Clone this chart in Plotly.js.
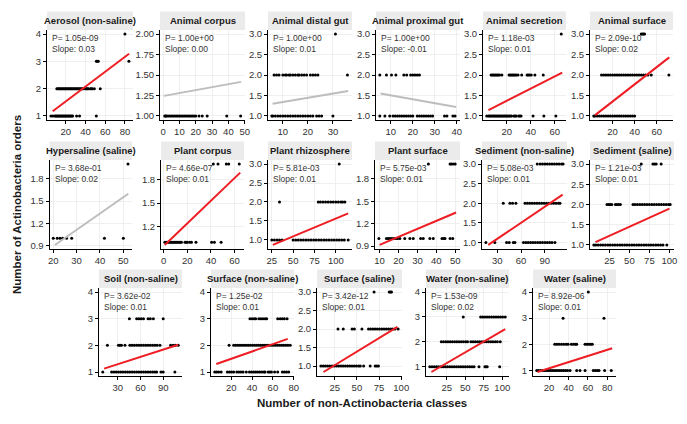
<!DOCTYPE html>
<html>
<head>
<meta charset="utf-8">
<script src="https://cdn.plot.ly/plotly-3.0.1.min.js"></script>
<style>html,body{margin:0;padding:0;background:#fff}#chart{width:687px;height:424px}</style>
</head>
<body>
<div id="chart"></div>
<script>
// facet titles and test results
var panelNames = ['Aerosol (non-saline)', 'Animal corpus', 'Animal distal gut', 'Animal proximal gut',
  'Animal secretion', 'Animal surface', 'Hypersaline (saline)', 'Plant corpus', 'Plant rhizosphere',
  'Plant surface', 'Sediment (non-saline)', 'Sediment (saline)', 'Soil (non-saline)',
  'Surface (non-saline)', 'Surface (saline)', 'Water (non-saline)', 'Water (saline)'];
var pValues = ['1.05e-09', '1.00e+00', '1.00e+00', '1.00e+00', '1.18e-03', '2.09e-10', '3.68e-01',
  '4.66e-07', '5.81e-03', '5.75e-03', '5.08e-03', '1.21e-03', '3.62e-02', '1.25e-02', '3.42e-12',
  '1.53e-09', '8.92e-06'];
var slopes = ['0.03', '0.00', '0.01', '-0.01', '0.01', '0.02', '0.02', '0.01', '0.01', '0.01', '0.01',
  '0.01', '0.01', '0.01', '0.01', '0.02', '0.01'];

// points: x values of samples with 1, 2, 3, 4 orders
var aerosol = [[5,7,9,10,11,12,13,14,15,16,17,18,19,20,21,22,23,24,25,26,27,31,34,51],
  [11,12,13,14,15,16,17,18,19,20,21,22,23,24,25,26,27,28,29,30,31,32,33,34,35,36,37,38,40,41,42,43,45,46,47,49,55],
  [51,52,53,84], [80]];
var animalCorpus = [[1,1.5,2,3,4,5,6,7,8,9,10,11,12,13,14,15,16,17,18,19,20,22,24,27,39,47.5]];
var distalGut = [[5.6,6,7,8,9,10,11,12,13,14,15,16,17,18,19,20,21,22,23.5,24.5,25.5,30],
  [6.5,7.5,8.5,10,11,11.5,12.5,13,14,15,16,16.5,17.5,18.5,19.5,21,22,23,24,35.8], [31]];
var proximalGut = [[5,7.3,9.5,11,12,13,14,15,16,17,18,19,20,22,23,24,25,26,27,28,29,34.4,35.5,38.2,39.2],
  [5,8,10.3,12.3,15.9,17.2,19,20,21,22,23]];
var secretion = [[3.4,5,6,7,8,9,10,11,12,13,14,15,16,17,18,19,20,21,22,23,24,26,27,28,30,31,32,42,51,61],
  [7,8,9,10,11,12,13,14,16,22,23,24,25,26,27,28,29.5,32.5,37,38,39,40.5,43.5,50.5], [65.5]];
var animalSurface = [[3,4,6,8,10,12,14,16,18,20,22,24,26,28,30,32,34,36,38,40],
  [10,12,14,16,18,20,22,24,26,28,30,32,34,36,38,40,42,44,46,48,50,52,55,71], [46,47,48,49]];
var hypersaline = [[20,21.7,22.9,24,25.7,27.9,41.9,50], [52]];
var plantCorpus = [[1,2,3,4,5,6,7,8,9,10,11,12,13,14,15,18,19,20,22,23.5,27.3,40.6,42.9,48.6],
  [42,46,53,55,64]];
var rhizosphere = [[25,28,31,34,37,50,53,56,59,62,65,68,71,74,77,80,83,86,89,92,95,98,101,104,107,110,114.5],
  [34,79.5,82,85,88,91,94,97,100,103,106,108,110.6], [104]];
var plantSurface = [[9.6,13.6,14.5,15.5,16.5,17.5,18.5,19.5,20.7,23.3,26,27.8,31.7,33.1,36.6,38.4,43,44,44.6,47.3,48.7],
  [35.8,47.3,48,49,50]];
var sedimentNon = [[15.7,27,41.8,45.1,50.2,52.3,63,66,69,72,75,78,81,84,87,90,93,96,99,102.7],
  [37.6,46,49.3,53.5,65,68,71,74,77,80,83,86,89,92,95,98,101,104,107,109],
  [80.4,84,87,90,93,96,99,102,105,108,111,113]];
var sedimentSal = [[5.5,8,11,14,17,20,23,26,29,32,35,38,41,44,47,50,53,56,59,62,65,68,71,74,77,80,83,86,89,92,96.8],
  [22,24,26,28,32.5,34.5,36.5,38.7,54.5,57,60,63,66,69,72,75,78,81,84,87,90,93,96,99,101],
  [64.8,79.4,81.5,83.5,89.7]];
var soil = [[10.3,22,25,28,31,34,37,40,43,46,49,52,55,58,61,64,67,70,73,76,79,81.3,87,90,105.4],
  [16.4,31,33,35,39.6,46,49,52,55,58,61,64,67,70,73,76,79,82,85.7,99.7,103,106,109.8],
  [45.4,55,58,61,64,70,73,77,90]];
var surfaceNon = [[4.3,6,8,10.4,16.4,18.4,20.4,22.4,25.4,27.4,29.4,31.4,34.5,37.5,39.5,41.5,43.5,45.5,47.5,49.5,51.5,52.5,55.5,57,58.6,61.6,64.6,69.1,71,73,75.1],
  [18,22.4,24.4,26.4,28.4,30.4,32.4,34.4,36.4,38.4,40.4,42.4,44.4,46.4,48.4,50.4,52.4,54.4,56.4,58.4,60.4,62.4,64.4,66.4,68.4,70.4,72.4,74.4,76.6],
  [38,40,42,43.5,46.5,48.5,50.5,52.5,54,64.6,67,69,71,73.6]];
var surfaceSal = [[9.4,12,14.5,17,19.5,22,24.5,27,29.5,32,34.5,37,39.5,42,44.5,47,49.5,52,53.9,57.6,65,70.6,72.5,74.3],
  [28.7,34.6,44.6,47.2,55.7,63.1,65.5,68,70.5,73,75.5,78,80.5,83,85.5,88,90.5,93,96.5],
  [69.4,86.5,88,89]];
var waterNon = [[1.9,5,8,11,14,17,20,23,26,29,32,35,38,41,44,47,50,53,56,59,61.8,68.5,76.5,78,79.6,96.5],
  [17.5,20.5,23.5,26.5,29.5,32.5,35.5,38.5,41.5,44.5,47.5,50.5,53,57.4,60.4,63.4,66.4,69.4,72.4,75.4,78.4,81.4,84.4,87.4,90.4,93.4,97.3],
  [47.2,70.7,73.5,76.5,79.5,82.5,85.5,88.5,91.5,94.5,97.5,100.5,104]];
var waterSal = [[7.3,9,11,13,15,17,19,21,23,25,27,29,31,33,35,37,39,41.6,48.4,51.8,57,65.5,67.5,69.5,71.4,77.2,84],
  [25.8,28,30.3,32.7,35,37.5,39.5,42.9,45,47,48.4,57,59,61,63,64.5],
  [34.4,76.5], [60.4]];
var panelPoints = [aerosol, animalCorpus, distalGut, proximalGut, secretion, animalSurface, hypersaline,
  plantCorpus, rhizosphere, plantSurface, sedimentNon, sedimentSal, soil, surfaceNon, surfaceSal, waterNon, waterSal];

// fitted lines (start, end)
var fitX = [[6.8,84.2],[0.5,47.8],[5.9,36.1],[5.3,39.7],[4.8,66.3],[4.2,71.3],[20.7,52.1],[0.9,64.8],
  [26.2,114.5],[10,50.5],[18.7,112.4],[7.6,100.1],[12,109.8],[5.8,74.2],[12.4,95.7],[4.1,104],[8,85]];
var fitY = [[1.17,3.28],[1.245,1.416],[1.30,1.61],[1.55,1.22],[1.14,2.06],[1.02,2.43],[0.91,1.6],[0.966,1.89],
  [0.867,1.70],[0.914,1.35],[0.94,2.22],[1.07,1.90],[1.125,2.02],[1.3,2.24],[0.84,2.06],[0.79,2.51],[0.94,1.85]];
var yTop = [4,2,3,3,3,3,2,2,3,2,3,3,4,4,3,4,4];

// tick labels
var xTicks = [[20,40,60,80],[0,10,20,30,40,50],[10,20,30],[10,20,30,40],[20,40,60],[20,40,60],
  [20,30,40,50],[0,20,40,60],[25,50,75,100],[10,20,30,40,50],[30,60,90],[25,50,75,100],
  [30,60,90],[20,40,60,80],[25,50,75,100],[25,50,75,100],[20,40,60,80]];
var yA = ['1','2','3','4'], yB = ['1.0','1.5','2.0','2.5','3.0'], yC = ['0.9','1.2','1.5','1.8'];
var yTickText = [yA, ['1.00','1.25','1.50','1.75','2.00'], yB, yB, yB, yB, yC, ['1.2','1.5','1.8'],
  yB, yC, yB, yB, yA, yA, yB, yA, yA];

var W = 687, H = 424;
// panel boxes in px: left, right, top, bottom
var boxes = [
  [47,133,30,120],[160,245,30,120],[268,352,30,120],[376,460,30,120],[483,566,30,120],[590,673,30,120],
  [49.5,132,160,249],[161,244,160,249],[268,352,160,249],[375,460,160,249],[482,567,160,249],[590,674,160,249],
  [99,182,288,376],[211,294,288,376],[317,402,288,376],[426,509,288,376],[533,616,288,376]];
var stripH = 18.5;

var narrow = 'Liberation Sans Narrow, Arial Narrow, Liberation Sans, Arial, sans-serif';
var traces = [], shapes = [], annotations = [];
var layout = {
  width: W, height: H, margin: {l: 0, r: 0, t: 0, b: 0},
  paper_bgcolor: '#fff', plot_bgcolor: '#fff', showlegend: false,
  font: {family: narrow, color: '#333'}
};

function expand(lo, hi) { var d = (hi - lo) * 0.05; return [lo - d, hi + d]; }

panelNames.forEach(function (name, i) {
  var s = i === 0 ? '' : String(i + 1);
  var b = boxes[i];
  var px = [], py = [];
  panelPoints[i].forEach(function (xs, k) {
    xs.forEach(function (v) { px.push(v); py.push(k + 1); });
  });
  var sig = parseFloat(pValues[i]) < 0.05;
  traces.push({x: px, y: py, xaxis: 'x' + s, yaxis: 'y' + s, type: 'scatter', mode: 'markers',
    marker: {color: '#000', size: 3}, hoverinfo: 'skip'});
  traces.push({x: fitX[i], y: fitY[i], xaxis: 'x' + s, yaxis: 'y' + s, type: 'scatter', mode: 'lines',
    line: {color: sig ? '#ee1d23' : '#bdbdbd', width: 2}, hoverinfo: 'skip'});

  var allX = px.concat(fitX[i]);
  var xr = expand(Math.min.apply(null, allX), Math.max.apply(null, allX));
  var yr = expand(Math.min(1, fitY[i][0], fitY[i][1]), Math.max(yTop[i], fitY[i][0], fitY[i][1]));
  var common = {showline: true, linecolor: '#000', linewidth: 1, ticks: 'outside', ticklen: 3,
    tickcolor: '#000', tickwidth: 1, showgrid: true, gridcolor: '#ebebeb', gridwidth: 0.8,
    zeroline: false, fixedrange: true, tickfont: {family: narrow, size: 9.5, color: '#333'}};
  layout['xaxis' + s] = Object.assign({}, common, {domain: [b[0] / W, b[1] / W], range: xr,
    anchor: 'y' + s, tickvals: xTicks[i], ticktext: xTicks[i].map(String)});
  layout['yaxis' + s] = Object.assign({}, common, {domain: [1 - b[3] / H, 1 - b[2] / H], range: yr,
    anchor: 'x' + s, tickvals: yTickText[i].map(parseFloat), ticktext: yTickText[i]});

  shapes.push({type: 'rect', xref: 'paper', yref: 'paper', x0: b[0] / W, x1: b[1] / W,
    y0: 1 - b[2] / H, y1: 1 - (b[2] - stripH) / H, fillcolor: '#ebebeb', line: {width: 0}, layer: 'below'});
  annotations.push({xref: 'paper', yref: 'paper', x: (b[0] + b[1]) / 2 / W, y: 1 - (b[2] - stripH / 2) / H,
    text: name, showarrow: false, xanchor: 'center', yanchor: 'middle',
    font: {family: narrow, size: 9.5, weight: 'bold', color: '#1a1a1a'}});
  annotations.push({xref: 'paper', yref: 'paper', x: (b[0] + 3) / W, y: 1 - (b[2] + 1) / H,
    text: 'P= ' + pValues[i] + '<br>Slope: ' + slopes[i], showarrow: false, xanchor: 'left', yanchor: 'top',
    align: 'left', font: {family: narrow, size: 8.5, color: '#333'}});
});

annotations.push({xref: 'paper', yref: 'paper', x: 362 / W, y: 1 - 403 / H, text: 'Number of non-Actinobacteria classes',
  showarrow: false, xanchor: 'center', yanchor: 'middle',
  font: {family: narrow, size: 11.5, weight: 'bold', color: '#1a1a1a'}});
annotations.push({xref: 'paper', yref: 'paper', x: 17 / W, y: 1 - 205 / H, text: 'Number of Actinobacteria orders',
  showarrow: false, textangle: -90, xanchor: 'center', yanchor: 'middle',
  font: {family: 'Liberation Sans, Arial, sans-serif', size: 11.5, weight: 'bold', color: '#1a1a1a'}});

layout.shapes = shapes;
layout.annotations = annotations;

Plotly.newPlot('chart', traces, layout, {staticPlot: true, displayModeBar: false});
</script>
</body>
</html>
